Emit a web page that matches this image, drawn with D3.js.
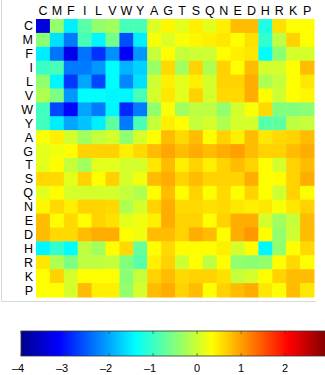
<!DOCTYPE html>
<html>
<head>
<meta charset="utf-8">
<script src="https://cdn.jsdelivr.net/npm/d3@7"></script>
<style>
  body { margin: 0; background: #fff; }
  text { font-family: "Liberation Sans", Arial, sans-serif; fill: #000; }
</style>
</head>
<body>
<div id="chart"></div>
<script>
// amino acid order on both axes
const residues = ['C','M','F','I','L','V','W','Y','A','G','T','S','Q','N','E','D','H','R','K','P'];

// one row per residue, columns in the same order
const rowC = [-3.4,-0.4,-1.5,-0.8,-0.4,-0.3,-0.9,-0.9, 0.1, 0.4, 0.15,0.45,0.15,0.45,0.8, 0.8,-1.2, 0.55,0.35,0.35];
const rowM = [-0.45,-1.6,-2.3,-0.9,-1.45,-0.6,-2.6,-1.5, 0.3, 0.1, 0.3, 0.4, 0.45,0.5, 0.35,0.55,-1.05,-0.1,0.65,0.35];
const rowF = [-1.5,-2.35,-3.3,-2.35,-2.8,-2.15,-3.2,-2.1,-0.05,0.35,-0.05,0.0,0.0, 0.35,0.45,0.5,-1.4,-0.45,0.05,0.05];
const rowI = [-1.0,-0.9,-2.3,-2.3,-2.1,-1.4,-1.9,-1.7,-0.35,0.6,-0.3,0.65,-0.2,0.65,0.35,0.8, 0.05,0.05,0.35,0.8];
const rowL = [-0.4,-1.45,-2.75,-2.0,-2.65,-1.4,-2.2,-1.6, 0.0, 0.45,0.15,0.45,0.05,0.65,0.65,0.9,-0.2,-0.05,0.35,0.5];
const rowV = [-0.2,-0.55,-2.1,-1.4,-1.4,-1.45,-1.45,-0.9,0.05,0.5, 0.15,0.65,0.05,0.6, 0.6, 0.9, 0.35,0.0, 0.35,0.4];
const rowW = [-0.95,-2.65,-3.1,-2.0,-2.3,-1.45,-2.85,-2.3,-0.4,0.3,-0.3,-0.1,-0.1,-0.4,0.05,0.3, 0.6,-0.5,-0.5,-0.45];
const rowY = [-0.95,-1.5,-2.0,-1.8,-1.5,-0.75,-2.3,-0.9,-0.05,0.45,0.35,-0.05,0.05,-0.2,0.05,0.05,-0.8,-0.75,-0.1,-0.05];
const rowA = [0.3, 0.45,0.05,-0.3,-0.05,0.05,-0.4,0.05,0.35,0.8, 0.6, 0.8, 0.35,0.65,0.45,0.8, 0.5, 0.6, 0.65,0.8];
const rowG = [0.15,0.25,0.35,0.65,0.65,0.65,0.45,0.6, 0.8, 0.95,0.8, 0.9, 0.8, 0.9, 1.0, 0.8, 0.65,0.65,0.8, 0.9];
const rowT = [0.15,0.35,-0.05,-0.3,0.15,0.15,0.05,0.05,0.5, 0.8, 0.45,0.65,0.45,0.65,0.8, 0.65,0.35,0.05,0.65,0.8];
const rowS = [0.6, 0.6, 0.15,0.65,0.35,0.65,0.05,0.25,0.8, 0.9, 0.65,0.8, 0.65,0.65,0.65,0.9, 0.35,0.35,0.65,0.9];
const rowQ = [0.15,0.35,0.05,0.05,0.05,0.05,-0.05,-0.2,0.35,0.8, 0.35,0.65,0.35,0.6, 0.35,0.65,0.35,0.0, 0.65,0.35];
const rowN = [0.4, 0.6, 0.45,0.65,0.65,0.6,-0.2, 0.05,0.65,0.9, 0.6, 0.6, 0.55,0.6, 0.5, 0.45,0.5, 0.3, 0.5, 0.65];
const rowE = [0.8, 0.35,0.6, 0.35,0.65,0.55,0.15,0.25,0.45,0.9, 0.65,0.65,0.35,0.65,0.9, 0.9, 0.05,-0.3,-0.05,0.8];
const rowD = [0.8, 0.6, 0.6, 0.8, 0.9, 0.9, 0.35,0.25,0.8, 0.8, 0.65,0.9, 0.8, 0.35,0.9, 1.05,0.35,-0.4,0.0, 0.8];
const rowH = [-1.45,-1.05,-1.4,-0.1,-0.3,0.35,0.6,-0.7, 0.35,0.6, 0.35,0.35,0.35,0.45,0.05,0.35,-1.45,-0.4,0.35,0.6];
const rowR = [0.5,-0.2,-0.55,-0.1,-0.1,-0.05,-0.5,-0.8,0.45,0.65,0.0, 0.35,-0.1,0.35,-0.4,-0.45,-0.4,0.35,0.6, 0.35];
const rowK = [0.35,0.65,0.05,0.35,0.35,0.35,-0.45,-0.05,0.65,0.8,0.6, 0.65,0.65,0.55,-0.05,0.05,0.35,0.65,0.8, 0.8];
const rowP = [0.35,0.35,0.05,0.8, 0.45,0.45,-0.4,0.05,0.8, 0.9, 0.65,0.8, 0.35,0.65,0.8, 0.9, 0.5, 0.35,0.8, 0.5];

const rows = [rowC,rowM,rowF,rowI,rowL,rowV,rowW,rowY,rowA,rowG,rowT,rowS,rowQ,rowN,rowE,rowD,rowH,rowR,rowK,rowP];

// colour bar range and ticks
const cMin = -4, cMax = 2.95;
const cTicks = [-4,-3,-2,-1,0,1,2];

const width = 325, height = 375;
const svg = d3.select('#chart').append('svg')
  .attr('width', width)
  .attr('height', height);

// faint frame lines like the exported figure
svg.append('line').attr('x1', 1.5).attr('x2', 1.5).attr('y1', 0).attr('y2', 301)
  .attr('stroke', '#d9d9d9');
svg.append('line').attr('x1', 1.5).attr('x2', 316).attr('y1', 301.5).attr('y2', 301.5)
  .attr('stroke', '#d9d9d9');

// jet colormap
const jetStops = [0, 0.125, 0.375, 0.625, 0.875, 1];
const jetColors = ['#00008f', '#0000ff', '#00ffff', '#ffff00', '#ff0000', '#800000'];
const tScale = d3.scaleLinear().domain([cMin, cMax]).range([0, 1]).clamp(true);
const jet = d3.scaleLinear().domain(jetStops).range(jetColors).interpolate(d3.interpolateRgb);
const color = v => jet(tScale(v));

const x = d3.scaleBand().domain(residues).range([36, 314]);
const y = d3.scaleBand().domain(residues).range([19, 297]);

const cells = [];
rows.forEach((r, i) => r.forEach((v, j) => cells.push({ row: residues[i], col: residues[j], v })));

svg.append('g').selectAll('rect')
  .data(cells)
  .enter()
  .append('rect')
  .attr('x', d => x(d.col))
  .attr('y', d => y(d.row))
  .attr('width', x.bandwidth() + 0.5)
  .attr('height', y.bandwidth() + 0.5)
  .attr('fill', d => color(d.v));

// axis labels (no lines, like the figure)
svg.append('g').selectAll('text')
  .data(residues)
  .enter()
  .append('text')
  .attr('x', d => x(d) + x.bandwidth() / 2)
  .attr('y', 15)
  .attr('text-anchor', 'middle')
  .style('font-size', '12.5px')
  .text(d => d);

svg.append('g').selectAll('text')
  .data(residues)
  .enter()
  .append('text')
  .attr('x', 33)
  .attr('y', d => y(d) + y.bandwidth() / 2)
  .attr('dy', '0.36em')
  .attr('text-anchor', 'end')
  .style('font-size', '12.5px')
  .text(d => d);

// colour bar
const cbX = d3.scaleLinear().domain([cMin, cMax]).range([21, 327]);
const cbTop = 331, cbH = 25;
const grad = svg.append('defs').append('linearGradient')
  .attr('id', 'jetgrad')
  .attr('x1', '0%').attr('x2', '100%').attr('y1', '0%').attr('y2', '0%');
d3.range(0, 1.0001, 0.025).forEach(t => {
  grad.append('stop').attr('offset', (t * 100) + '%').attr('stop-color', jet(t));
});
svg.append('rect')
  .attr('x', cbX(cMin)).attr('y', cbTop)
  .attr('width', cbX(cMax) - cbX(cMin)).attr('height', cbH)
  .attr('fill', 'url(#jetgrad)')
  .attr('stroke', '#333').attr('stroke-width', 0.8);

const tk = svg.append('g');
cTicks.forEach(t => {
  tk.append('line').attr('x1', cbX(t)).attr('x2', cbX(t))
    .attr('y1', cbTop).attr('y2', cbTop + 3).attr('stroke', '#333').attr('stroke-width', 0.6);
  tk.append('line').attr('x1', cbX(t)).attr('x2', cbX(t))
    .attr('y1', cbTop + cbH - 3).attr('y2', cbTop + cbH).attr('stroke', '#333').attr('stroke-width', 0.6);
});

svg.append('g').selectAll('text')
  .data(cTicks)
  .enter()
  .append('text')
  .attr('x', d => cbX(d) - (d < 0 ? 3 : 0))
  .attr('y', 372)
  .attr('text-anchor', 'middle')
  .style('font-size', '11px')
  .text(d => d < 0 ? '\u2013' + Math.abs(d) : d);
</script>
</body>
</html>
